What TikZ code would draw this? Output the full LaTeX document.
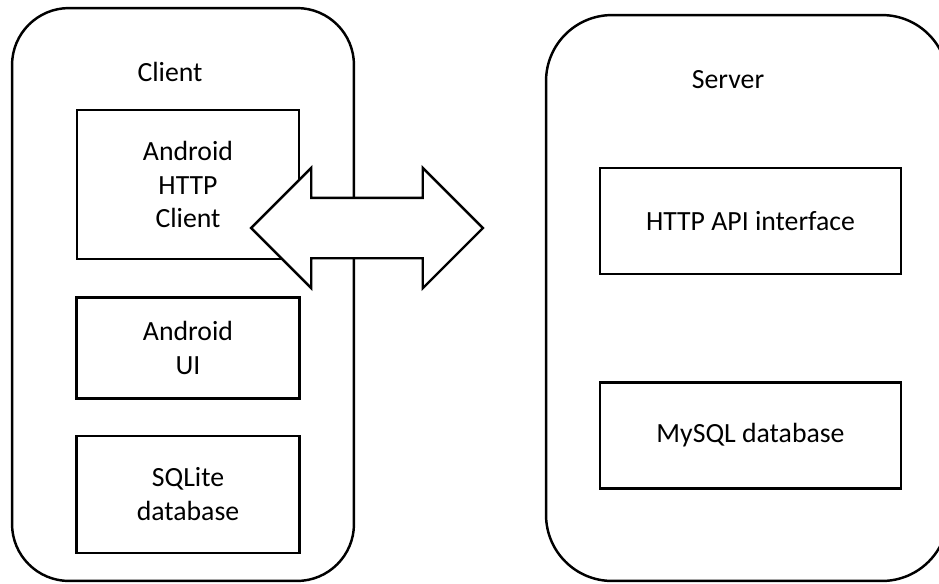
\documentclass[tikz,border=0pt]{standalone}
\usepackage{fontspec}
\setmainfont{Carlito}
\usepackage{xcolor}
\usepackage{tikz}
\usetikzlibrary{arrows.meta,positioning}
\usetikzlibrary{shapes.arrows}

\begin{document}
\begin{tikzpicture}[
                    x=0.02cm, y=-0.02cm,
                    every node/.style={font=\fontsize{15.8}{19.3}\selectfont},
                    side/.style={draw, rectangle, line width=1.4pt, inner sep=0pt},
                    part/.style={draw, rectangle, line width=1.4pt, align=center, inner sep=2pt},
                    title/.style={inner sep=1pt},
                    link/.style={draw, double arrow, fill=white, line width=1.4pt,
                                 inner xsep=0pt, inner ysep=0.58cm,
                                 minimum height=4.64cm,
                                 double arrow head extend=0.6cm}
                ]
                    \useasboundingbox (0,0) rectangle (939,583);
                    \clip (0,0) rectangle (939,583);

                    % Sides
                    \node[side, rounded corners=1.14cm, minimum width=6.84cm, minimum height=11.46cm] (Client) at (183,294.5) {};
                    \node[side, rounded corners=1.32cm, minimum width=8.04cm, minimum height=11.32cm] (Server) at (747,298) {};
                    \node[title] (ClientTitle) at (170,72) {Client};
                    \node[title] (ServerTitle) at (728,80) {Server};

                    % Parts
                    \node[part, minimum width=4.44cm, minimum height=2.98cm] (HttpClient) at (188,184.5) {Android\\HTTP\\Client};
                    \node[part, minimum width=4.46cm, minimum height=2.02cm, below=0.72cm of HttpClient] (AndroidUI) {Android\\UI};
                    \node[part, minimum width=4.46cm, minimum height=2.34cm, below=0.70cm of AndroidUI] (SQLite) {SQLite\\database};
                    \node[part, minimum width=6.02cm, minimum height=2.12cm] (ApiIface) at (750.5,221) {HTTP API interface};
                    \node[part, minimum width=6.02cm, minimum height=2.12cm, below=2.12cm of ApiIface] (MySQL) {MySQL database};

                    % Link
                    \node[link] (Link) at (367,228) {};
                \end{tikzpicture}
\end{document}
